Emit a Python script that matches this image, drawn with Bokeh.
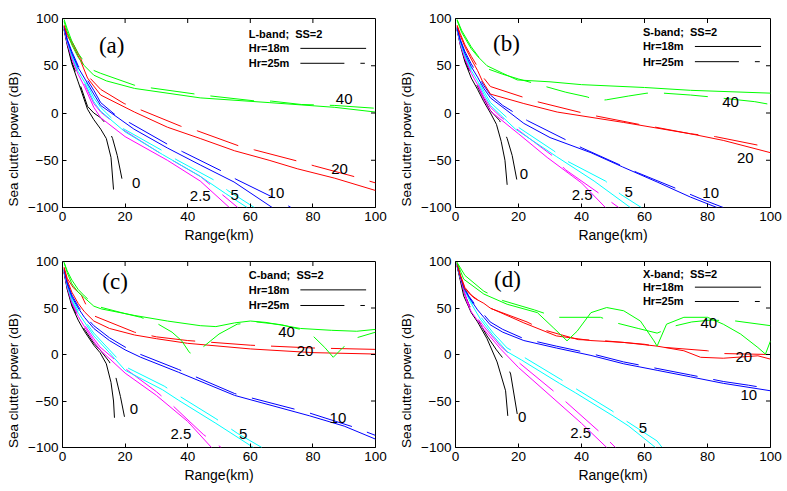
import math
from bokeh.plotting import figure
from bokeh.layouts import column, row
from bokeh.models import Range1d, FixedTicker, Label
from bokeh.embed import file_html
from bokeh.resources import INLINE

SPEEDS = ["0", "2.5", "5", "10", "20", "40"]
COLORS = {"0": "#000000", "2.5": "#ff00ff", "5": "#00ffff",
          "10": "#0000ff", "20": "#ff0000", "40": "#00ff00"}
X_TICKS = [0, 20, 40, 60, 80, 100]
Y_TICKS = [-100, -50, 0, 50, 100]

# ---------------- L-band ----------------
L_18 = {
    "0": ([0.5, 1.5, 3, 5, 8, 10, 12.2, 14, 15.5, 16.3],
          [88, 72, 52, 33, 4, -7, -17, -27, -47, -81]),
    "2.5": ([0.5, 1.5, 3, 5, 7, 10, 12.2, 20, 33.5, 44, 53.3],
            [89, 74, 57, 41, 28, 6, -5, -25, -50, -72, -100]),
    "5": ([0.5, 1.5, 3, 5, 7, 10, 12.2, 20, 32, 44, 52, 59],
          [90, 76, 60, 44, 33, 12, 2, -20, -44, -67, -85, -100]),
    "10": ([0.5, 1.5, 3, 5, 7, 10, 12.2, 22.8, 33.5, 44, 54.8, 67],
           [91, 77, 63, 48, 37, 20, 8, -17, -37, -55, -73, -100]),
    "20": ([0.5, 1.5, 3.6, 5.8, 8, 12.2, 23, 33.5, 44, 55, 66, 75, 87, 100],
           [92, 82, 70, 55, 37, 19, 1, -15, -27, -40, -50, -59, -69, -82]),
    "40": ([0.5, 1.5, 3, 5, 7, 10, 14, 23, 44, 66, 87, 100],
           [97, 86, 72, 59, 50, 40, 34, 26, 16, 11, 6, 1]),
}
L_25 = {
    "0": ([0.5, 1.5, 3, 5, 8, 10, 12.2, 14, 16, 17.5, 19.2],
          [89, 74, 54, 36, 7, 0, -5, -12, -27, -45, -73]),
    "2.5": ([0.5, 1.5, 3, 5, 7, 10, 12.2, 19, 31.4, 44, 56],
            [90, 75, 59, 43, 31, 10, 1, -17, -43, -67, -100]),
    "5": ([0.5, 1.5, 3, 5, 7, 10, 12.2, 18.6, 32, 36.2, 49, 52.8, 61.3],
          [91, 77, 62, 46, 36, 16, 6, -15, -40, -49, -72, -82, -100]),
    "10": ([0.5, 1.5, 3, 5, 7, 10, 12.2, 16.5, 21.3, 33.5, 38.4, 51.2, 55.4, 68.3, 73],
           [92, 78, 65, 50, 40, 24, 11, -1, -10, -33, -41, -62, -70, -91, -100]),
    "20": ([0.5, 1.5, 3.6, 5.8, 7.9, 12.2, 19.7, 24.5, 37.8, 43.2, 56.5, 61.3, 75.2, 80.5, 94, 100],
           [93, 84, 72, 58, 40, 25, 10, 4, -14, -19, -35, -39, -51, -56, -68, -74]),
    "40": ([0.5, 1.5, 3, 5, 7, 10, 12.2, 22.9, 28.2, 43.2, 47.4, 62, 66.7, 76.3, 87, 100],
           [99, 89, 76, 63, 54, 45, 42, 29.5, 26.6, 19.7, 18, 12.6, 12.6, 9, 8, 5]),
}

# ---------------- S-band ----------------
S_18 = {
    "0": ([0.5, 1.5, 3, 5, 7, 9, 11.1, 13, 14.5, 15.7, 16.4],
          [88, 72, 54, 37, 25, 12, 0, -12, -30, -50, -76]),
    "2.5": ([0.5, 1.5, 3, 5, 7, 9, 11.1, 20, 29.1, 40, 47.6],
            [88, 73, 57, 42, 30, 14, 2, -22, -47, -74, -100]),
    "5": ([0.5, 1.5, 3, 5, 7, 9, 11.1, 19, 32, 44, 55.5],
          [89, 75, 60, 45, 34, 20, 8, -17, -46, -72, -100]),
    "10": ([0.5, 1.5, 3, 5, 7, 9, 11.1, 21.7, 30, 43, 53, 64, 74.6, 83],
           [90, 77, 63, 49, 38, 26, 16, -11, -26, -42, -57, -73, -89, -100]),
    "20": ([0.5, 1.5, 3, 5, 7, 8.5, 11.1, 21.7, 32.3, 53.4, 74.6, 85, 100],
           [92, 82, 70, 57, 45, 34, 20, 10, 1, -10, -22, -29, -42]),
    "40": ([0.5, 2, 5, 7, 10, 15, 19.6, 30, 40, 60, 74.6, 100],
           [98, 85, 68, 60, 50, 42, 35, 33, 30, 27, 24, 21]),
}
S_25 = {
    "0": ([0.5, 1.5, 3, 5, 7, 9, 11, 14, 16.4, 18, 19.6],
          [89, 74, 56, 40, 28, 15, 3, -8, -27, -45, -73]),
    "2.5": ([0.5, 1.5, 3, 5, 7, 9, 11.1, 14.3, 30.7, 34.9, 46, 51.8],
            [89, 74, 58, 44, 32, 17, 6, -4, -45, -60, -86, -100]),
    "5": ([0.5, 1.5, 3, 5, 7, 9, 11.1, 19, 31.2, 35.5, 47.6, 52.4, 59],
          [90, 76, 61, 47, 36, 23, 11, -13, -40, -51, -72, -86, -100]),
    "10": ([0.5, 1.5, 3, 5, 7, 9, 11.1, 15, 22.8, 35.4, 40.2, 52.9, 57.7, 70.9, 78, 85],
           [91, 78, 65, 52, 41, 29, 19, 8, -8, -29, -37, -56, -63, -81, -91, -100]),
    "20": ([0.5, 1.5, 3, 5, 7, 8.5, 11.1, 21.2, 25.9, 39.2, 44.4, 58.2, 63.5, 74.6, 82.5, 96, 100],
           [93, 84, 72, 60, 49, 39, 28, 17, 12, 1, -3, -12, -15, -22, -25, -34, -36]),
    "40": ([0.5, 2, 5, 7, 10, 15, 20, 28.6, 35, 41.8, 45, 48, 55, 60.8, 66, 74.6, 81, 95, 100],
           [99, 87, 70, 61, 47, 41, 36, 28, 22, 17, 13, 14, 18, 21, 21, 19, 17, 12, 9]),
}

# ---------------- C-band ----------------
C_18 = {
    "0": ([0.5, 1.5, 3, 5, 7, 10, 12, 14, 15.5, 16.3, 16.6],
          [88, 70, 52, 37, 25, 10, 2, -10, -30, -50, -68]),
    "2.5": ([0.5, 1.5, 3, 5, 7, 10, 12, 20, 30, 40, 47.6],
            [89, 72, 55, 41, 30, 14, 5, -20, -44, -72, -100]),
    "5": ([0.5, 1.5, 3, 5, 7, 10, 15, 20, 32, 37, 49, 61],
          [90, 74, 58, 45, 35, 20, 2, -17, -38, -49, -74, -100]),
    "10": ([0.5, 1.5, 3, 5, 7, 10, 15, 20, 25, 37, 55, 79, 90, 100],
           [91, 76, 62, 50, 40, 28, 15, 5, -3, -19, -44, -66, -77, -91]),
    "20": ([0.5, 1.5, 3, 5, 7, 10, 15, 23, 30, 40, 60, 80, 100],
           [93, 80, 67, 55, 46, 36, 28, 21, 17, 12, 6, 2, 0.5]),
    "40": ([0.5, 1.5, 3, 5, 7, 10, 12.4, 23, 33.5, 44, 49, 55, 60, 65, 76, 86, 94, 100],
           [99, 88, 76, 67, 61, 52, 49, 42, 36, 31, 30, 34, 36, 34.5, 28, 26, 25, 27]),
}
C_25 = {
    "0": ([0.5, 1.5, 3, 5, 7, 10, 12, 15, 17, 18.5, 19.8],
          [89, 72, 54, 39, 27, 12, 5, -8, -24, -45, -67]),
    "2.5": ([0.5, 1.5, 3, 5, 7, 10, 12, 20, 30, 34.6, 45, 50.7],
            [90, 74, 57, 43, 32, 17, 8, -15, -40, -53, -86, -100]),
    "5": ([0.5, 1.5, 3, 5, 7, 10, 15, 20, 32.5, 37, 49, 56, 63.7],
          [91, 76, 60, 47, 37, 23, 5, -13, -34, -44, -69, -85, -100]),
    "10": ([0.5, 1.5, 3, 5, 7, 10, 15, 20, 23.5, 37, 55, 79, 93, 100],
           [92, 78, 64, 52, 42, 31, 18, 8, 2, -16, -42, -63, -78, -87]),
    "20": ([0.5, 1.5, 3.4, 6, 9, 23, 30, 40, 60, 80, 100],
           [94, 82, 72, 64, 43, 24, 19, 15, 10, 7, 5.5]),
    "40": ([0.5, 1.5, 3, 5, 7, 10, 12, 20, 25, 30.4, 35, 38, 40.6, 42, 44.7, 50, 55.8, 62,
            70, 76, 80, 83.8, 86.5, 89.6, 92, 94, 100],
           [99, 90, 80, 70, 63, 54, 51, 44, 40, 33, 24, 15, 2, 0, 7.5, 22, 32.6, 35,
            32, 27, 20, 7.5, -3, 7.5, 13, 18, 24]),
}

# ---------------- X-band ----------------
X_18 = {
    "0": ([0.5, 1.5, 2.6, 5, 7, 10, 13.2, 15.9, 16.6],
          [95, 80, 63, 45, 35, 17, -8, -39, -66]),
    "2.5": ([0.5, 1.5, 3.7, 5, 9, 14.3, 20, 30, 40, 48],
            [96, 82, 56, 46, 27, 6, -14, -44, -74, -100]),
    "5": ([0.5, 1.5, 3, 4.8, 7.9, 12, 16.4, 21, 33, 38, 50, 55, 63.5],
          [97, 83, 68, 56, 38, 20, 3, -6, -31, -41, -66, -77, -100]),
    "10": ([0.5, 1.5, 2.6, 4.2, 7, 9, 11, 15, 21.7, 32, 43, 53.4, 64, 74.6, 85, 100],
           [97, 84, 72, 62, 48, 40, 32, 24, 15, 7, -1, -10, -17, -24, -31, -39]),
    "20": ([0.5, 1.5, 3, 5.8, 9, 11, 21.7, 32, 43, 53.4, 64, 72.5, 77.8, 85, 96, 100],
           [98, 85, 70, 61, 55, 50, 34, 20, 15, 13, 9, 4, -3, -4, -1.4, -5]),
    "40": ([0.5, 2.6, 9, 16.4, 26, 31, 35.4, 38.6, 43, 48, 53.4, 58.7, 63, 64, 67,
            72.5, 80, 85, 90.5, 96, 98.4, 100],
           [99, 81, 65, 54, 45, 29, 14.7, 25, 45, 50.5, 47, 36, 14.7, 9, 32.6,
            40, 40, 32.6, 22, 7.5, 0.4, 14.7]),
}
X_25 = {
    "0": ([0.5, 1.5, 3, 5, 7, 10, 13, 16, 17.5, 19.6],
          [96, 82, 64, 48, 38, 20, 5, -8, -21, -64]),
    "2.5": ([0.5, 1.5, 3.7, 5, 9, 14.3, 20.6, 31, 35.4, 46, 50.8],
            [97, 83, 58, 48, 30, 9, -10, -39, -52, -84, -100]),
    "5": ([0.5, 1.5, 3, 4.8, 7.9, 12, 16.4, 21, 33.3, 37.6, 49.7, 54, 64, 65.6],
          [98, 84, 70, 58, 41, 23, 7, -1.4, -26.5, -35.5, -60.6, -71, -93, -100]),
    "10": ([0.5, 1.5, 2.6, 4.2, 7, 9, 11, 15, 21.7, 32, 43, 53.4, 64, 74.6, 85, 93, 100],
           [98, 85, 73, 63, 50, 43, 35, 27, 17, 9, 1, -8, -15, -22, -29, -33, -37]),
    "20": ([0.5, 1.5, 3, 5, 10, 22.7, 27.5, 39, 46.5, 60, 65, 80, 85, 100],
           [99, 86, 72, 64, 51, 35, 27, 16, 15, 11, 8, 4, 1, 0]),
    "40": ([0.5, 3, 9, 15, 25, 32, 46, 51, 58, 64, 70, 75, 81, 89, 100],
           [99, 85, 68, 58, 48, 40, 40, 34, 28, 23, 31, 35, 37, 36, 31]),
}

# curve-label positions (annotation placement)
LBL_L = {"0": (23.5, -73.7), "2.5": (44, -87.7), "5": (55, -86.7),
         "10": (68.2, -84.2), "20": (88.5, -59), "40": (90, 15)}
LBL_S = {"0": (21.7, -65), "2.5": (40.2, -86.4), "5": (55, -83.6),
         "10": (81, -84.6), "20": (92, -47.9), "40": (87.3, 11.8)}
LBL_C = {"0": (22.8, -58.8), "2.5": (37.8, -85), "5": (57.7, -85),
         "10": (88, -68.5), "20": (77.5, 4), "40": (71.6, 23.7)}
LBL_X = {"0": (21.2, -67.7), "2.5": (39.7, -83.9), "5": (59.5, -78.5),
         "10": (93.1, -43.4), "20": (91.5, -3.2), "40": (80.4, 34.4)}

SANS = "Liberation Sans"
SERIF = "Liberation Serif"
DASH = "44 16"
Y_LABEL = "Sea clutter power (dB)" + "\u00a0" * 14


def make_panel(tag, band, solid, dashed, lbl, tag_xy, leg_y,
               width, height, left, right, top, bottom):
    p = figure(width=width, height=height,
               x_range=Range1d(0, 100), y_range=Range1d(-100, 100),
               output_backend="svg", toolbar_location=None,
               min_border_left=left, min_border_right=right,
               min_border_top=top, min_border_bottom=bottom)
    p.background_fill_color = "white"
    p.border_fill_color = "white"
    p.outline_line_color = "black"
    p.outline_line_width = 1
    p.outline_line_alpha = 1
    p.grid.visible = False

    for s in SPEEDS:
        xs, ys = solid[s]
        p.line(xs, ys, line_color=COLORS[s], line_width=1)
        xs, ys = dashed[s]
        p.line(xs, ys, line_color=COLORS[s], line_width=1, line_dash=DASH)

    for ax in (p.xaxis[0], p.yaxis[0]):
        ax.major_tick_in = 4
        ax.major_tick_out = 0
        ax.major_tick_line_color = "black"
        ax.minor_tick_line_color = None
        ax.axis_line_color = None
        ax.major_label_text_font = SANS
        ax.major_label_text_font_size = "13.5px"
        ax.major_label_text_color = "black"
        ax.major_label_standoff = 4
        ax.axis_label_text_font = SANS
        ax.axis_label_text_font_style = "normal"
        ax.axis_label_text_color = "black"
    p.xaxis[0].ticker = FixedTicker(ticks=X_TICKS)
    p.yaxis[0].ticker = FixedTicker(ticks=Y_TICKS)
    p.xaxis[0].axis_label = "Range(km)"
    p.xaxis[0].axis_label_text_font_size = "14px"
    p.xaxis[0].axis_label_standoff = 3
    p.yaxis[0].axis_label = Y_LABEL
    p.yaxis[0].axis_label_text_font_size = "13.5px"
    p.yaxis[0].axis_label_standoff = 4

    # inward ticks on the top and right frame edges
    inner_x = X_TICKS[1:-1]
    inner_y = Y_TICKS[1:-1]
    p.scatter(inner_x, [Y_TICKS[-1]] * len(inner_x), marker="dash",
              angle=math.pi / 2, size=9, line_color="black", line_width=1)
    p.scatter([X_TICKS[-1]] * len(inner_y), inner_y, marker="dash",
              size=9, line_color="black", line_width=1)

    p.add_layout(Label(x=tag_xy[0], y=tag_xy[1], text=tag, text_align="center",
                       text_baseline="middle", text_font=SERIF,
                       text_font_size="23px", text_color="black"))

    for s in SPEEDS:
        lx, ly = lbl[s]
        p.add_layout(Label(x=lx, y=ly, text=s, text_align="center",
                           text_baseline="middle", text_font=SANS,
                           text_font_size="15px", text_color="black"))

    # legend block
    for txt, yy in ((band + "-band;\u00a0 SS=2", leg_y[0]),
                    ("Hr=18m", leg_y[1]), ("Hr=25m", leg_y[2])):
        p.add_layout(Label(x=59.5, y=yy, text=txt,
                           text_align="left", text_baseline="middle",
                           text_font=SANS, text_font_style="bold",
                           text_font_size="11px", text_color="black"))
    p.line([76, 97], [leg_y[1], leg_y[1]], line_color="black", line_width=1)
    p.line([76, 96.6], [leg_y[2], leg_y[2]], line_color="black",
           line_width=1, line_dash=DASH)
    return p


pa = make_panel("(a)", "L", L_18, L_25, LBL_L, (15.7, 71), (84, 68.4, 52.6),
                393, 245, 62, 18, 18, 38)
pb = make_panel("(b)", "S", S_18, S_25, LBL_S, (16.2, 74), (85.8, 70.4, 54.3),
                394, 245, 62, 17, 18, 38)
pc = make_panel("(c)", "C", C_18, C_25, LBL_C, (16.8, 78.5), (86, 69.5, 52.7),
                393, 246, 62, 18, 16, 44)
pd = make_panel("(d)", "X", X_18, X_25, LBL_X, (16.5, 80.6), (86.7, 72.4, 57),
                394, 246, 62, 17, 16, 44)

layout = column(row(pa, pb), row(pc, pd))
open("out.html", "w").write(file_html(layout, INLINE))
